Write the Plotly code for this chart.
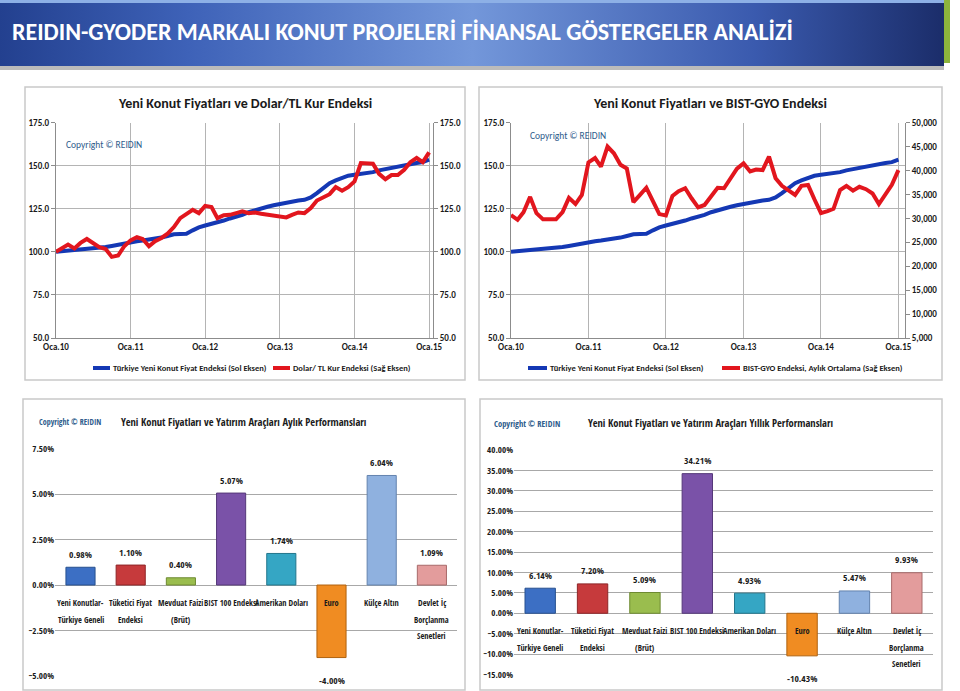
import plotly.graph_objects as go
import pandas as pd

W, H = 960, 691


def fx(p):
    return p / W


def fy(p):
    return 1 - p / H


# ------------------------------------------------------------------ data
baslik = "REIDIN-GYODER MARKALI KONUT PROJELERİ FİNANSAL GÖSTERGELER ANALİZİ"

aylar = pd.date_range("2010-01-01", "2015-01-01", freq="MS")
yil_tick_tarihleri = ["2010-01-01", "2011-01-01", "2012-01-01", "2013-01-01", "2014-01-01", "2015-01-01"]
yil_tick_etiketleri = ["Oca.10", "Oca.11", "Oca.12", "Oca.13", "Oca.14", "Oca.15"]

konut_endeksi = [
    100.0, 100.3, 100.6, 100.9, 101.2, 101.6, 101.9, 102.3, 102.8, 103.4, 104.2, 105.0,
    105.7, 106.2, 106.6, 107.0, 107.5, 108.3, 109.2, 110.2, 110.4, 110.5, 112.5, 114.2,
    115.3, 116.2, 117.0, 118.2, 119.4, 120.4, 121.5, 123.0, 124.2, 125.2, 126.2, 127.1,
    127.9, 128.3, 129.3, 129.8, 130.2, 131.6, 134.1, 137.0, 139.9, 141.5, 142.8, 144.2,
    144.8, 145.3, 145.7, 146.3, 147.3, 148.1, 148.6, 149.6, 150.2, 151.0, 151.6, 152.1,
    153.5,
]

dolar_tl_endeksi = [
    100.0, 102.3, 104.2, 102.0, 105.2, 107.5, 105.2, 102.7, 101.7, 97.1, 97.9, 103.3,
    106.7, 108.5, 107.5, 103.3, 106.2, 108.1, 110.6, 114.4, 119.6, 121.9, 124.4, 122.5,
    126.7, 126.0, 119.6, 121.3, 121.5, 122.5, 123.5, 122.5, 122.9, 122.1, 121.5, 120.9,
    120.2, 120.0, 121.5, 122.9, 122.5, 125.4, 129.8, 131.6, 133.5, 137.6, 135.5, 137.6,
    140.9, 151.6, 151.6, 151.2, 145.3, 142.2, 144.6, 144.6, 147.7, 152.1, 154.5, 152.1,
    157.8,
]

bist_gyo = [
    30700, 29700, 31300, 34500, 31100, 29800, 29800, 29800, 31300, 34300, 33000, 34900,
    41700, 42600, 40800, 45000, 43600, 41200, 40400, 33400, 34900, 36400, 33600, 30900,
    30600, 34700, 35700, 36300, 34200, 32300, 32800, 34500, 36400, 36300, 38500, 40400,
    41500, 39800, 40200, 40100, 42900, 38400, 36800, 35900, 34900, 36800, 37000, 34000,
    31100, 31500, 32000, 35900, 36800, 35800, 36600, 36100, 35200, 33000, 35100, 37000,
    40100,
]

kategoriler = [
    "Yeni Konutlar-<br>Türkiye Geneli",
    "Tüketici Fiyat<br>Endeksi",
    "Mevduat Faizi<br>(Brüt)",
    "BIST 100 Endeksi",
    "Amerikan Doları",
    "Euro",
    "Külçe Altın",
    "Devlet İç<br>Borçlanma<br>Senetleri",
]
aylik_performans = [0.98, 1.10, 0.40, 5.07, 1.74, -4.00, 6.04, 1.09]
yillik_performans = [6.14, 7.20, 5.09, 34.21, 4.93, -10.43, 5.47, 9.93]
bar_renkleri = ["#3C6FC4", "#C63A3C", "#9ABD4E", "#7A52A8", "#35A6C4", "#F08C22", "#8FB1DF", "#E39C9C"]
bar_kenar = ["#27508F", "#8E2426", "#6E8A32", "#553879", "#22768C", "#B0620F", "#6383AE", "#A86A6A"]

# ------------------------------------------------------------------ styles
COND = "Open Sans Condensed, Roboto Condensed, sans-serif"
CAL = "Carlito, Calibri, Lato, sans-serif"
BLUE = "#1438B4"
RED = "#E2161E"
GRID = "#B4B4B4"
TXT = "#1A1A1A"
COPY = "#2E5C8C"

fig = go.Figure()

# header gradient (hidden axes)
fig.add_trace(go.Scatter(
    x=[0, 1, 1, 0, 0], y=[0, 0, 1, 1, 0], mode="lines", fill="toself",
    line=dict(width=0), hoverinfo="skip", showlegend=False,
    fillgradient=dict(type="horizontal",
                      colorscale=[[0, "#23408F"], [0.2, "#3E62B8"], [0.5, "#7397DA"],
                                  [0.8, "#3A5AAE"], [1, "#1B2D6A"]]),
    xaxis="x5", yaxis="y7",
))

# line charts
fig.add_trace(go.Scatter(x=aylar, y=konut_endeksi, mode="lines", name="Türkiye Yeni Konut Fiyat Endeksi (Sol Eksen)",
                         line=dict(color=BLUE, width=4), xaxis="x", yaxis="y", showlegend=False))
fig.add_trace(go.Scatter(x=aylar, y=dolar_tl_endeksi, mode="lines", name="Dolar/ TL Kur Endeksi (Sağ Eksen)",
                         line=dict(color=RED, width=4), xaxis="x", yaxis="y2", showlegend=False))
fig.add_trace(go.Scatter(x=aylar, y=konut_endeksi, mode="lines", name="Türkiye Yeni Konut Fiyat Endeksi (Sol Eksen)",
                         line=dict(color=BLUE, width=4), xaxis="x2", yaxis="y3", showlegend=False))
fig.add_trace(go.Scatter(x=aylar, y=bist_gyo, mode="lines", name="BIST-GYO Endeksi, Aylık Ortalama (Sağ Eksen)",
                         line=dict(color=RED, width=4), xaxis="x2", yaxis="y4", showlegend=False))

# bar charts
fig.add_trace(go.Bar(x=kategoriler, y=aylik_performans, width=0.58,
                     marker=dict(color=bar_renkleri, line=dict(color=bar_kenar, width=1)),
                     xaxis="x3", yaxis="y5", showlegend=False, name="Aylık"))
fig.add_trace(go.Bar(x=kategoriler, y=yillik_performans, width=0.58,
                     marker=dict(color=bar_renkleri, line=dict(color=bar_kenar, width=1)),
                     xaxis="x4", yaxis="y6", showlegend=False, name="Yıllık"))

tickf = dict(family=CAL, size=9, color=TXT, weight="bold")
tickn = dict(family=COND, size=9, color=TXT, weight="bold")

line_y_dom = [fy(338), fy(122.7)]
common_x = dict(type="date", tickvals=yil_tick_tarihleri, ticktext=yil_tick_etiketleri, showgrid=True,
                gridcolor=GRID, gridwidth=1, showline=True, linecolor="#8C8C8C", ticks="",
                tickfont=tickf, zeroline=False, fixedrange=True, automargin=False)
common_yl = dict(range=[50, 175], dtick=25, tickformat=".1f", showgrid=True, gridcolor=GRID,
                 showline=True, linecolor="#8C8C8C", ticks="outside", ticklen=4, tickcolor="#8C8C8C",
                 tickfont=tickf, zeroline=False, domain=line_y_dom, automargin=False)

layout = dict(
    width=W, height=H, margin=dict(l=0, r=0, t=0, b=0, autoexpand=False),
    paper_bgcolor="white", plot_bgcolor="rgba(0,0,0,0)",
    xaxis=dict(common_x, domain=[fx(56), fx(433)], anchor="y", range=["2010-01-01", "2015-01-20"]),
    yaxis=dict(common_yl, anchor="x"),
    yaxis2=dict(common_yl, anchor="x", overlaying="y", side="right", showgrid=False),
    xaxis2=dict(common_x, domain=[fx(511), fx(905)], anchor="y3", range=["2010-01-01", "2015-02-01"]),
    yaxis3=dict(common_yl, anchor="x2"),
    yaxis4=dict(range=[5000, 50000], dtick=5000, tickformat=",d", showgrid=False, showline=True,
                linecolor="#8C8C8C", ticks="outside", ticklen=4, tickcolor="#8C8C8C", tickfont=tickf,
                zeroline=False, domain=line_y_dom, anchor="x2", overlaying="y3", side="right",
                automargin=False),
    xaxis3=dict(domain=[fx(55), fx(457)], anchor="y5", showticklabels=False, showgrid=False,
                showline=False, zeroline=False, fixedrange=True, automargin=False),
    yaxis5=dict(domain=[fy(675.7), fy(449)], anchor="x3", range=[-5, 7.5], dtick=2.5,
                tickformat=".2f", ticksuffix="%", showgrid=True, gridcolor="#A8A8A8",
                zeroline=False, showline=False, tickfont=tickn, automargin=False),
    xaxis4=dict(domain=[fx(514), fx(933)], anchor="y6", showticklabels=False, showgrid=False,
                showline=False, zeroline=False, fixedrange=True, automargin=False),
    yaxis6=dict(domain=[fy(674.5), fy(450)], anchor="x4", range=[-15, 40], dtick=5,
                tickformat=".2f", ticksuffix="%", showgrid=True, gridcolor="#A8A8A8",
                zeroline=False, showline=False, tickfont=tickn, automargin=False),
    xaxis5=dict(domain=[0, fx(944)], range=[0, 1], visible=False, fixedrange=True, automargin=False),
    yaxis7=dict(domain=[fy(66), 1], range=[0, 1], visible=False, fixedrange=True, anchor="x5",
                automargin=False),
)
fig.update_layout(**layout)

shapes = []
# panel boxes
for (x0, y0, x1, y1) in [(25, 87, 465, 380), (479, 87, 942, 380), (23, 399, 465, 690), (480, 399, 942, 690)]:
    shapes.append(dict(type="rect", xref="paper", yref="paper", x0=fx(x0), x1=fx(x1), y0=fy(y1), y1=fy(y0),
                       line=dict(color="#C9C9C9", width=1.5), fillcolor="white", layer="below"))
# header extras
shapes.append(dict(type="rect", xref="paper", yref="paper", x0=0, x1=fx(944), y0=fy(70), y1=fy(66),
                   line=dict(width=0), fillcolor="rgba(60,60,60,0.35)", layer="below"))
shapes.append(dict(type="rect", xref="paper", yref="paper", x0=0, x1=fx(944), y0=fy(3), y1=1,
                   line=dict(width=0), fillcolor="#8DB0E6", layer="above"))
shapes.append(dict(type="rect", xref="paper", yref="paper", x0=fx(944), x1=fx(950), y0=fy(63), y1=1,
                   line=dict(width=0), fillcolor="#8CB43C", layer="above"))
# legend line samples
for (x0, x1, col) in [(93, 110, BLUE), (273, 290, RED), (528, 547, BLUE), (722, 740, RED)]:
    shapes.append(dict(type="line", xref="paper", yref="paper", x0=fx(x0), x1=fx(x1), y0=fy(368), y1=fy(368),
                       line=dict(color=col, width=4)))

ann = []
ann.append(dict(text="<b>" + baslik + "</b>", xref="paper", yref="paper", x=fx(10), y=fy(31), xanchor="left",
                yanchor="middle", showarrow=False, font=dict(family=CAL, size=24, color="white")))
# chart titles
ann.append(dict(text="<b>Yeni Konut Fiyatları ve Dolar/TL Kur Endeksi</b>", xref="paper", yref="paper",
                x=fx(245), y=fy(103), xanchor="center", yanchor="middle", showarrow=False,
                font=dict(family=CAL, size=14, color=TXT)))
ann.append(dict(text="<b>Yeni Konut Fiyatları ve BIST-GYO Endeksi</b>", xref="paper", yref="paper",
                x=fx(710), y=fy(103), xanchor="center", yanchor="middle", showarrow=False,
                font=dict(family=CAL, size=14, color=TXT)))
ann.append(dict(text="Yeni Konut Fiyatları ve Yatırım Araçları Aylık Performansları", xref="paper", yref="paper",
                x=fx(243), y=fy(422), xanchor="center", yanchor="middle", showarrow=False,
                font=dict(family=COND, size=10.5, color=TXT)))
ann.append(dict(text="Yeni Konut Fiyatları ve Yatırım Araçları Yıllık Performansları", xref="paper", yref="paper",
                x=fx(710), y=fy(423), xanchor="center", yanchor="middle", showarrow=False,
                font=dict(family=COND, size=10.5, color=TXT)))
# copyrights
ann.append(dict(text="Copyright © REIDIN", xref="paper", yref="paper", x=fx(64), y=fy(145), xanchor="left",
                yanchor="middle", showarrow=False, font=dict(family=CAL, size=9.5, color=COPY)))
ann.append(dict(text="Copyright © REIDIN", xref="paper", yref="paper", x=fx(528), y=fy(136), xanchor="left",
                yanchor="middle", showarrow=False, font=dict(family=CAL, size=9.5, color=COPY)))
ann.append(dict(text="<b>Copyright © REIDIN</b>", xref="paper", yref="paper", x=fx(37), y=fy(422), xanchor="left",
                yanchor="middle", showarrow=False, font=dict(family=COND, size=8, color=COPY)))
ann.append(dict(text="<b>Copyright © REIDIN</b>", xref="paper", yref="paper", x=fx(492), y=fy(423), xanchor="left",
                yanchor="middle", showarrow=False, font=dict(family=COND, size=8.5, color=COPY)))
# legend texts
for (x0, txt) in [(111, "Türkiye Yeni Konut Fiyat Endeksi (Sol Eksen)"), (291, "Dolar/ TL Kur Endeksi (Sağ Eksen)"),
                  (548, "Türkiye Yeni Konut Fiyat Endeksi (Sol Eksen)"), (741, "BIST-GYO Endeksi, Aylık Ortalama (Sağ Eksen)")]:
    ann.append(dict(text="<b>" + txt + "</b>", xref="paper", yref="paper", x=fx(x0), y=fy(368), xanchor="left",
                    yanchor="middle", showarrow=False, font=dict(family=CAL, size=8.5, color=TXT)))

# bar value labels and category labels
for (xa, ya, vals) in [("x3", "y5", aylik_performans), ("x4", "y6", yillik_performans)]:
    for kat, v in zip(kategoriler, vals):
        ann.append(dict(text="<b>%.2f%%</b>" % v, xref=xa, yref=ya, x=kat, y=v, showarrow=False,
                        xanchor="center", yanchor="middle", yshift=13 if v >= 0 else -23,
                        font=dict(family=COND, size=9.5, color=TXT)))
        for i, part in enumerate(kat.split("<br>")):
            ann.append(dict(text="<b>" + part + "</b>", xref=xa, yref=ya, x=kat, y=0, showarrow=False,
                            xanchor="center", yanchor="middle", yshift=-(17.5 + 16.5 * i),
                            font=dict(family=COND, size=8.3, color=TXT)))

fig.update_layout(shapes=shapes, annotations=ann)
fig.write_html("out.html", config={"displayModeBar": False},
               post_script="document.body.style.margin='0px';document.body.style.padding='0px';")
